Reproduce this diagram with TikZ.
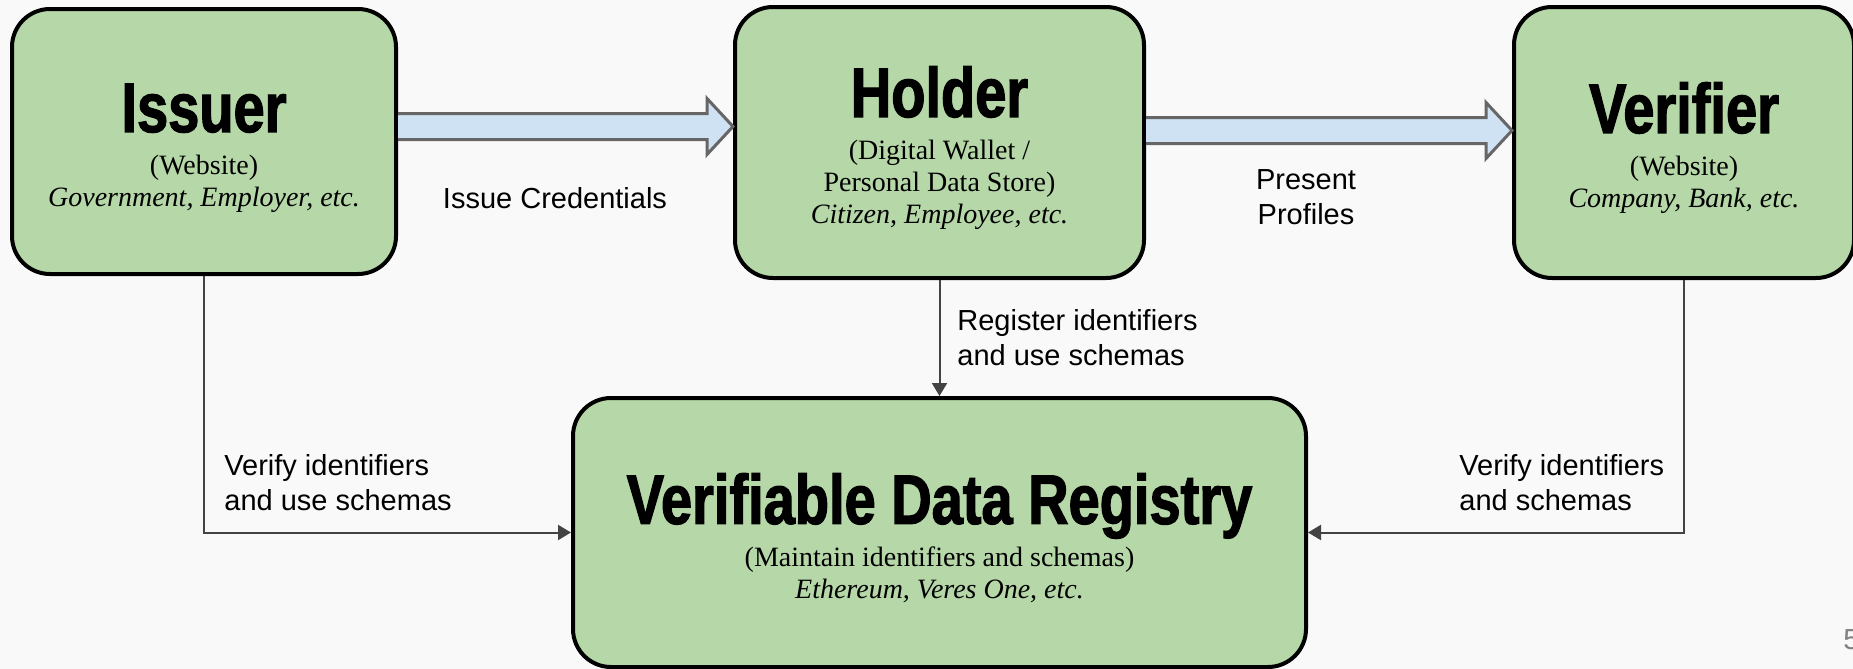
\documentclass[tikz,border=0pt]{standalone}
\usepackage{fontspec}
\setmainfont{Liberation Serif}
\newfontfamily\labelfont{Liberation Sans}
\newfontface\headfont[FakeStretch=0.8,FakeBold=1.8]{Liberation Sans Bold}
\usetikzlibrary{arrows.meta,calc}

\definecolor{boxgreen}{HTML}{B6D7A8}
\definecolor{arrowblue}{HTML}{CFE2F3}
\definecolor{arrowgray}{HTML}{666666}
\definecolor{linkgray}{HTML}{434343}
\definecolor{pagebg}{HTML}{F9F9F9}

\def\shaft{13}
\def\head{28}
\def\headlen{26}

% fat outlined arrow from tail point #1 to tip point #2
\newcommand\blockarrow[2]{%
  \fill[arrowblue] ([shift={(0,-\shaft)}]#1) -- ([shift={(-\headlen,-\shaft)}]#2)
    -- ([shift={(-\headlen,-\head)}]#2) -- (#2) -- ([shift={(-\headlen,\head)}]#2)
    -- ([shift={(-\headlen,\shaft)}]#2) -- ([shift={(0,\shaft)}]#1) -- cycle;
  \draw[arrowgray, line width=1.5pt, line join=miter]
    ([shift={(0,-\shaft)}]#1) -- ([shift={(-\headlen,-\shaft)}]#2)
    -- ([shift={(-\headlen,-\head)}]#2) -- (#2) -- ([shift={(-\headlen,\head)}]#2)
    -- ([shift={(-\headlen,\shaft)}]#2) -- ([shift={(0,\shaft)}]#1);}

% big title line, with a strut so the block sits a little low in its box
\newcommand\boxtitle[1]{{\rule{0pt}{31pt}\fontsize{35}{35}\headfont #1}}

% keep baselines evenly spaced under the big titles
\lineskiplimit=-100pt
\lineskip=0pt

\tikzset{
  party/.style={draw=black, line width=2pt, fill=boxgreen, rounded corners=19pt,
                align=center, inner sep=0pt, font=\fontsize{14}{16}\selectfont},
  note/.style={inner sep=0pt, font=\labelfont\fontsize{14.5}{17.5}\selectfont},
  link/.style={draw=linkgray, line width=1pt, -{Triangle[length=6.5pt,width=7.5pt]}}
}

\begin{document}
\begin{tikzpicture}[x=0.5pt,y=-0.5pt]

\useasboundingbox (0,0) rectangle (1853,669);
\fill[pagebg] (0,0) rectangle (1853,669);

% the four roles
\node[party, minimum width=192pt, minimum height=132.5pt] (issuer) at (204,141.5)
  {\boxtitle{Issuer}\\[5.5pt] (Website)\\ \textit{Government, Employer, etc.}};
\node[party, minimum width=204.5pt, minimum height=135.5pt] (holder) at (939.5,142.5)
  {\boxtitle{Holder}\\[5.5pt] (Digital Wallet /\\ Personal Data Store)\\ \textit{Citizen, Employee, etc.}};
\node[party, minimum width=170pt, minimum height=135.5pt] (verifier) at (1684,142.5)
  {\boxtitle{Verifier}\\[5.5pt] (Website)\\ \textit{Company, Bank, etc.}};
\node[party, minimum width=366.5pt, minimum height=134.5pt] (registry) at (939.5,532.5)
  {\boxtitle{Verifiable Data Registry}\\[5.5pt] (Maintain identifiers and schemas)\\ \textit{Ethereum, Veres One, etc.}};

% credential flow
\coordinate (issue-tail) at ($(issuer.east)+(0,-15)$);
\coordinate (issue-tip) at (issue-tail -| holder.west);
\blockarrow{issue-tail}{issue-tip}

\coordinate (present-tail) at ($(holder.east)+(0,-12)$);
\coordinate (present-tip) at (present-tail -| verifier.west);
\blockarrow{present-tail}{present-tip}

% registry links
\draw[link] (issuer.south) |- (registry.west);
\draw[link] (holder.south) -- (registry.north);
\draw[link] (verifier.south) |- (registry.east);

% labels
\node[note, align=center] (issue-lbl) at (555,198) {Issue Credentials};
\node[note, align=center] (present-lbl) at (1306,197) {Present\\Profiles};
\node[note, align=left, anchor=west] (register-lbl) at (957,338) {Register identifiers\\and use schemas};
\node[note, align=left, anchor=west] (verify-l-lbl) at (224,483) {Verify identifiers\\and use schemas};
\node[note, align=left, anchor=west] (verify-r-lbl) at (1459,483) {Verify identifiers\\and schemas};

\node[note, text=gray, anchor=west] (page-no) at (1843,640) {5};

\end{tikzpicture}
\end{document}
